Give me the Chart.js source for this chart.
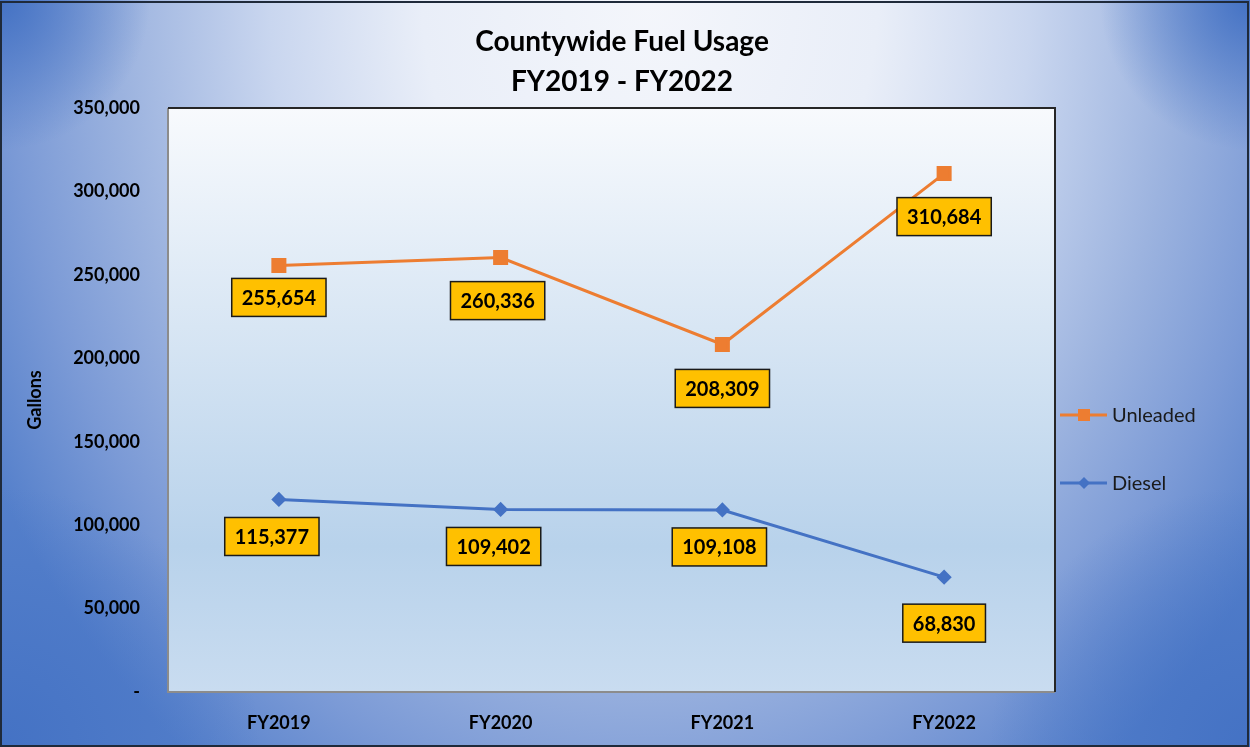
<!DOCTYPE html>
<html>
<head>
<meta charset="utf-8">
<script src="https://cdn.jsdelivr.net/npm/chart.js@4"></script>
<style>
  html, body { margin: 0; padding: 0; background: #ffffff; }
  #wrap { width: 1250px; height: 747px; position: relative; }
</style>
</head>
<body>
<div id="wrap"><canvas id="fuel-chart" width="1250" height="747"></canvas></div>
<script>
// données
const years = ['FY2019', 'FY2020', 'FY2021', 'FY2022'];
const unleaded = [255654, 260336, 208309, 310684];
const diesel = [115377, 109402, 109108, 68830];
const yMax = 350000;
const yStep = 50000;

const FONT = 'Lato, "Open Sans", sans-serif';

// décalage des étiquettes (déplacées à la main dans l'original)
const labelShift = [
    { dx: [0, -3, 0, 0], dy: [32, 43, 44, 43] },
    { dx: [-7, -7, -3, 0], dy: [37, 37, 37, 46] }
];

function cornerShade(ctx, x, y, r) {
    const g = ctx.createRadialGradient(x, y, 0, x, y, r);
    g.addColorStop(0, 'rgba(68,114,196,1)');
    g.addColorStop(0.4, 'rgba(68,114,196,0.6)');
    g.addColorStop(1, 'rgba(68,114,196,0)');
    ctx.fillStyle = g;
    ctx.fillRect(x - r, y - r, 2 * r, 2 * r);
}

// fond, zone de tracé, titre, légende et étiquettes
const decorPlugin = {
    id: 'decor',
    beforeDraw(chart) {
        const ctx = chart.ctx;
        const w = chart.width, h = chart.height;
        ctx.save();
        // dégradé elliptique depuis le haut
        ctx.save();
        ctx.translate(650, 0);
        ctx.scale(1, 1.25);
        const bg = ctx.createRadialGradient(0, 0, 0, 0, 0, 760);
        bg.addColorStop(0, '#f4f6fb');
        bg.addColorStop(0.3, '#e9eef8');
        bg.addColorStop(0.5, '#c9d6ef');
        bg.addColorStop(0.7, '#9cb3df');
        bg.addColorStop(0.85, '#7b9ad6');
        bg.addColorStop(1, '#5580cb');
        ctx.fillStyle = bg;
        ctx.fillRect(-700, 0, w + 100, h);
        ctx.restore();
        // coins plus sombres
        cornerShade(ctx, 0, 0, 150);
        cornerShade(ctx, w, 0, 150);
        cornerShade(ctx, 0, h, 260);
        cornerShade(ctx, w, h, 260);

        const a = chart.chartArea;
        const pg = ctx.createLinearGradient(0, a.top, 0, a.bottom);
        pg.addColorStop(0, '#f8fafd');
        pg.addColorStop(0.75, '#b8d2eb');
        pg.addColorStop(1, '#c9dcf0');
        ctx.fillStyle = pg;
        ctx.fillRect(a.left, a.top, a.right - a.left, a.bottom - a.top);

        // bordure de la zone de tracé
        ctx.lineWidth = 2;
        ctx.strokeStyle = '#8c8c8c';
        ctx.beginPath();
        ctx.moveTo(a.left, a.top);
        ctx.lineTo(a.left, a.bottom);
        ctx.lineTo(a.right, a.bottom);
        ctx.stroke();
        ctx.strokeStyle = '#262626';
        ctx.beginPath();
        ctx.moveTo(a.left, a.top);
        ctx.lineTo(a.right, a.top);
        ctx.lineTo(a.right, a.bottom);
        ctx.stroke();

        // cadre extérieur
        ctx.strokeStyle = '#1f2a3a';
        ctx.lineWidth = 2;
        ctx.strokeRect(1, 2, w - 3, h - 3);

        // titre
        ctx.fillStyle = '#000000';
        ctx.font = 'bold 28px ' + FONT;
        ctx.textAlign = 'center';
        ctx.textBaseline = 'middle';
        ctx.fillText('Countywide Fuel Usage', 622, 42);
        ctx.fillText('FY2019 - FY2022', 622, 82);
        ctx.restore();
    },
    afterDatasetsDraw(chart) {
        const ctx = chart.ctx;
        ctx.save();
        ctx.font = 'bold 20px ' + FONT;
        ctx.textAlign = 'center';
        ctx.textBaseline = 'middle';
        chart.data.datasets.forEach((ds, i) => {
            const meta = chart.getDatasetMeta(i);
            meta.data.forEach((pt, j) => {
                const txt = ds.data[j].toLocaleString('en-US');
                const x = pt.x + labelShift[i].dx[j];
                const y = pt.y + labelShift[i].dy[j];
                const bw = ctx.measureText(txt).width + 20;
                const bh = 38;
                ctx.fillStyle = '#ffc000';
                ctx.fillRect(x - bw / 2, y - bh / 2, bw, bh);
                ctx.lineWidth = 1.5;
                ctx.strokeStyle = '#1a1a1a';
                ctx.strokeRect(x - bw / 2, y - bh / 2, bw, bh);
                ctx.fillStyle = '#000000';
                ctx.fillText(txt, x, y + 1);
            });
        });

        // légende
        const rows = [0, 1].map(i => ({ ds: chart.data.datasets[i], y: i === 0 ? 415 : 483 }));
        rows.forEach(r => {
            ctx.strokeStyle = r.ds.borderColor;
            ctx.lineWidth = 3;
            ctx.beginPath();
            ctx.moveTo(1060, r.y);
            ctx.lineTo(1107, r.y);
            ctx.stroke();
            ctx.fillStyle = r.ds.borderColor;
            if (r.ds.pointStyle === 'rect') {
                ctx.fillRect(1078, r.y - 6, 12, 12);
            } else {
                ctx.beginPath();
                ctx.moveTo(1084, r.y - 6);
                ctx.lineTo(1090, r.y);
                ctx.lineTo(1084, r.y + 6);
                ctx.lineTo(1078, r.y);
                ctx.closePath();
                ctx.fill();
            }
            ctx.fillStyle = '#1a1a1a';
            ctx.font = '20px ' + FONT;
            ctx.textAlign = 'left';
            ctx.fillText(r.ds.label, 1112, r.y + 1);
        });
        ctx.restore();
    }
};

const ctx = document.getElementById('fuel-chart').getContext('2d');
window.fuelChart = new Chart(ctx, {
    type: 'line',
    data: {
        labels: years,
        datasets: [
            {
                label: 'Unleaded',
                data: unleaded,
                borderColor: '#ed7d31',
                backgroundColor: '#ed7d31',
                borderWidth: 3,
                pointStyle: 'rect',
                pointRadius: 8.5,
                pointHoverRadius: 8.5,
                tension: 0
            },
            {
                label: 'Diesel',
                data: diesel,
                borderColor: '#4472c4',
                backgroundColor: '#4472c4',
                borderWidth: 3,
                pointStyle: 'rectRot',
                pointRadius: 5.5,
                pointHoverRadius: 5.5,
                tension: 0
            }
        ]
    },
    options: {
        responsive: false,
        animation: false,
        layout: { padding: { left: 0, top: 108, right: 195, bottom: 0 } },
        plugins: {
            legend: { display: false },
            title: { display: false },
            tooltip: { enabled: false }
        },
        scales: {
            x: {
                offset: true,
                grid: { display: false, drawTicks: false },
                border: { display: false },
                ticks: {
                    color: '#000000',
                    padding: 20,
                    font: { family: FONT, size: 18, weight: 'bold' }
                },
                afterFit(scale) { scale.height = 55; }
            },
            y: {
                min: 0,
                max: yMax,
                grid: { display: false, drawTicks: false },
                border: { display: false },
                ticks: {
                    stepSize: yStep,
                    color: '#000000',
                    padding: 28,
                    font: { family: FONT, size: 18, weight: 'bold' },
                    callback: v => v === 0 ? '-' : v.toLocaleString('en-US')
                },
                title: {
                    display: true,
                    text: 'Gallons',
                    color: '#000000',
                    padding: { top: 24, bottom: 0 },
                    font: { family: FONT, size: 18, weight: 'bold' }
                },
                afterFit(scale) { scale.width = 168; }
            }
        }
    },
    plugins: [decorPlugin]
});
</script>
</body>
</html>
